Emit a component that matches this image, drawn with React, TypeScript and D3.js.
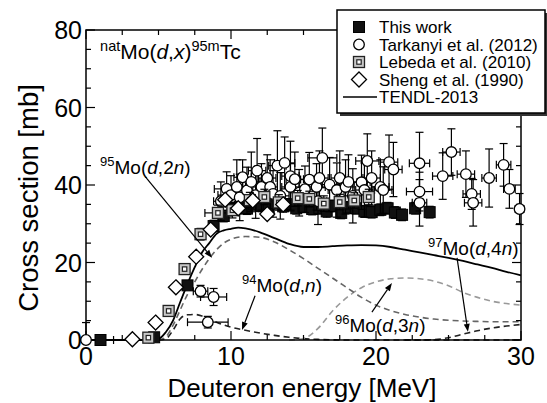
import React from 'react';
import * as d3 from 'd3';

const W = 547;
const H = 403;
const FONT = '"Liberation Sans", Arial, Helvetica, sans-serif';

// Axis tick values
const xMajor = [0, 10, 20, 30];
const yMajor = [0, 20, 40, 60, 80];
const xMinorStep = 2.5;
const yMinorStep = 5;

// TENDL-2013: natMo(d,x)95mTc total
const tendlE = [0, 4, 5, 5.5, 6, 6.5, 7, 7.5, 8, 8.5, 9, 9.5, 10, 10.5, 11, 12, 13, 14, 15, 16, 17, 18, 19, 20, 21, 22, 23, 24, 25, 26, 27, 28, 29, 30];
const tendlTotal = [0, 0, 0.3, 2, 5, 9.8, 14.5, 18.8, 22.6, 25, 27.4, 28.3, 28.7, 29, 28.8, 27.8, 26.3, 24.8, 24.0, 24.0, 24.2, 24.4, 24.5, 24.4, 24.0, 23.3, 22.6, 21.9, 21.2, 20.4, 19.5, 18.6, 17.6, 16.7];

// TENDL-2013 partial contributions
const mo95E = [5, 5.5, 6, 6.5, 7, 7.5, 8, 8.5, 9, 9.5, 10, 11, 12, 13, 14, 15, 16, 17, 18, 19, 20, 21, 22, 23, 24, 25, 26, 27, 28, 29, 30];
const mo95 = [0, 0.8, 3.8, 7.8, 11.8, 15, 18.2, 21, 23.3, 25, 26, 26.7, 26.5, 25.3, 23.3, 21, 18.5, 16, 13.5, 11, 9, 7.6, 6.6, 5.9, 5.4, 5.1, 4.9, 4.8, 4.7, 4.7, 4.7];
const mo94E = [5, 5.5, 6, 6.5, 7, 7.5, 8, 8.5, 9, 9.5, 10, 11, 12, 13, 14, 15, 16, 17, 18, 30];
const mo94 = [0, 0.3, 2.5, 5.5, 6.5, 6.6, 6.2, 5.4, 4.6, 3.9, 3.3, 2.5, 1.8, 1.2, 0.7, 0.35, 0.15, 0.05, 0, 0];
const mo96E = [14, 15, 16, 17, 18, 19, 20, 21, 22, 23, 24, 25, 26, 27, 28, 29, 30];
const mo96 = [0, 0.4, 3, 7.5, 11, 13.5, 15, 15.8, 16, 15.8, 15.2, 14, 12.3, 11, 10, 9.4, 9];
const mo97E = [22, 23, 24, 25, 26, 27, 28, 29, 30];
const mo97 = [0, 0, 0.1, 0.6, 1.5, 2.4, 3.1, 3.6, 4.0];

// Measurements: [energy MeV, cross section mb, dE, dSigma]
const thisWork: [number, number, number, number][] = [
  [1.0, 0, 0.9, 0], [4.7, 0.7, 0.3, 0.3], [7.0, 14.1, 0.3, 1], [8.8, 29.4, 0.3, 1.5],
  [9.5, 32, 0.3, 1.5], [10.1, 33.8, 0.3, 1.5], [10.6, 34.4, 0.3, 1.5], [11.1, 33.9, 0.3, 1.5],
  [11.6, 35, 0.3, 1.5], [12.1, 34.6, 0.3, 1.5], [12.6, 33.7, 0.3, 1.5], [13.1, 35.3, 0.3, 1.5],
  [13.6, 34.5, 0.3, 1.5], [13.9, 35, 0.3, 1.5], [14.5, 34, 0.3, 1.5], [15.0, 34.4, 0.3, 1.5],
  [15.6, 33.8, 0.3, 1.5], [16.1, 34, 0.3, 1.5], [16.6, 33.2, 0.3, 1.5], [17.1, 34.6, 0.3, 1.5],
  [17.6, 32.8, 0.3, 1.5], [18.1, 34.2, 0.3, 1.5], [18.6, 34, 0.3, 1.5], [19.2, 33.2, 0.3, 1.5],
  [19.7, 33, 0.3, 1.5], [20.3, 33.6, 0.3, 1.5], [20.8, 34, 0.3, 1.5], [21.3, 32.9, 0.3, 1.5],
  [21.8, 32.3, 0.3, 1.5], [22.7, 34, 0.3, 1.5], [23.7, 33, 0.3, 1.5],
];

const tarkanyi: [number, number, number, number][] = [
  [0, 0, 0, 4.5], [7.9, 12.6, 0.5, 1.5], [8.8, 11.1, 0.9, 2.2], [8.4, 4.6, 1.4, 1.5],
  [9.3, 35.8, 0.5, 5], [9.7, 39, 0.85, 4.4], [10.0, 37.4, 0.9, 5], [10.4, 39.5, 0.6, 7],
  [10.6, 36.8, 0.5, 6], [10.8, 42, 0.6, 4.5], [11.1, 38.6, 0.6, 6], [11.4, 40.8, 0.6, 7.7],
  [11.7, 37.4, 0.6, 6], [11.8, 43.7, 0.6, 8.3], [12.1, 39.5, 0.6, 6], [12.5, 41.8, 0.6, 6],
  [12.7, 39.5, 0.5, 7], [12.9, 37.7, 0.6, 6], [13.2, 45, 0.6, 9], [13.4, 37.2, 0.6, 6],
  [13.7, 45.7, 0.7, 6.7], [14.1, 42.3, 0.6, 9], [14.1, 39.5, 0.6, 6], [14.4, 41.5, 0.6, 7],
  [14.7, 38, 0.6, 6], [15.1, 38.9, 0.7, 6], [15.4, 41.4, 0.6, 7], [15.9, 39.5, 0.6, 6],
  [16.0, 35.8, 0.6, 6], [16.1, 41.8, 0.6, 7], [16.3, 47, 1.0, 7.7], [16.8, 40.1, 0.6, 7],
  [17.3, 38.7, 0.6, 7], [17.5, 41.8, 0.6, 7], [17.9, 39.5, 0.6, 7], [18.1, 40.8, 0.6, 7],
  [18.4, 37.2, 0.6, 7], [19.0, 40.7, 0.6, 7], [19.2, 38.7, 0.6, 7], [19.4, 46.2, 0.8, 7],
  [19.7, 41.8, 0.6, 7], [20.3, 39.5, 0.6, 7], [20.5, 38.7, 0.6, 6], [20.9, 45.9, 0.6, 7],
  [21.2, 44, 0.6, 7], [23.0, 45.6, 0.7, 8], [23.0, 38.3, 0.9, 5], [23.0, 35.4, 0.5, 6],
  [24.6, 42.3, 0.7, 6], [25.2, 48.5, 0.6, 6], [26.2, 42.8, 0.6, 6], [26.6, 37.7, 0.6, 4],
  [26.7, 35.4, 0.6, 6], [27.8, 41.8, 0.5, 7.5], [28.8, 45.2, 0.5, 5.5], [29.2, 39, 0.4, 5],
  [29.9, 33.8, 0.3, 4],
];

const lebeda: [number, number, number, number][] = [
  [4.3, 0.6, 0.3, 0.3], [5.7, 7.5, 0.3, 0.8], [6.8, 18.3, 0.3, 1.2], [7.9, 27.3, 0.3, 1.5],
  [9.1, 32.8, 0.9, 2], [10.1, 33.5, 0.3, 2], [11.3, 36.1, 0.3, 2], [12.3, 36.9, 0.3, 2],
  [13.3, 35.5, 0.3, 2], [14.6, 36.6, 0.3, 2], [15.4, 36.4, 0.3, 2], [16.4, 35.2, 0.3, 2],
  [17.5, 35.6, 0.3, 2], [18.5, 36, 0.3, 2], [19.5, 36.9, 0.3, 2],
];

const sheng: [number, number][] = [
  [3.2, 0.2], [4.8, 4.5], [6.2, 13.6], [7.6, 21.5], [8.6, 28.5],
  [9.6, 36.2], [10.5, 34], [11.5, 36], [12.5, 32.5], [13.6, 35],
];

const legendLabels = ['This work', 'Tarkanyi et al. (2012)', 'Lebeda et al. (2010)', 'Sheng et al. (1990)', 'TENDL-2013'];

const x = d3.scaleLinear().domain([0, 30]).range([86, 521]);
const y = d3.scaleLinear().domain([0, 80]).range([340, 30]);

function curvePath(es: number[], vs: number[]) {
  return d3
    .line<number>()
    .x((_, i) => x(es[i]))
    .y((v) => y(v))
    .curve(d3.curveMonotoneX)(vs) as string;
}

function ErrorBars({ e, v, de, dv }: { e: number; v: number; de: number; dv: number }) {
  const cx = x(e);
  const cy = y(v);
  const cap = 4;
  const parts: React.ReactNode[] = [];
  if (dv > 0) {
    const lo = Math.max(0, v - dv);
    const yTop = y(v + dv);
    const yBot = y(lo);
    parts.push(<line key="v" x1={cx} x2={cx} y1={yTop} y2={yBot} />);
    parts.push(<line key="vt" x1={cx - cap} x2={cx + cap} y1={yTop} y2={yTop} />);
    if (v - dv > 0) parts.push(<line key="vb" x1={cx - cap} x2={cx + cap} y1={yBot} y2={yBot} />);
  }
  if (de > 0) {
    const xl = x(e - de);
    const xr = x(e + de);
    parts.push(<line key="h" x1={xl} x2={xr} y1={cy} y2={cy} />);
    parts.push(<line key="hl" x1={xl} x2={xl} y1={cy - cap} y2={cy + cap} />);
    parts.push(<line key="hr" x1={xr} x2={xr} y1={cy - cap} y2={cy + cap} />);
  }
  return <g stroke="#000" strokeWidth={1.2}>{parts}</g>;
}

const FilledSquare = ({ cx, cy }: { cx: number; cy: number }) => (
  <rect x={cx - 5.5} y={cy - 5.5} width={11} height={11} fill="#111" stroke="#000" strokeWidth={1} />
);
const OpenCircle = ({ cx, cy }: { cx: number; cy: number }) => (
  <circle cx={cx} cy={cy} r={5.3} fill="#fff" stroke="#000" strokeWidth={1.3} />
);
const DotSquare = ({ cx, cy }: { cx: number; cy: number }) => (
  <g>
    <rect x={cx - 5.5} y={cy - 5.5} width={11} height={11} fill="#c8c8c8" stroke="#222" strokeWidth={1.3} />
    <rect x={cx - 2.2} y={cy - 2.2} width={4.4} height={4.4} fill="#fff" stroke="#222" strokeWidth={1.2} />
  </g>
);
const Diamond = ({ cx, cy }: { cx: number; cy: number }) => (
  <path d={`M${cx},${cy - 7.5}L${cx + 7.5},${cy}L${cx},${cy + 7.5}L${cx - 7.5},${cy}Z`} fill="#fff" stroke="#000" strokeWidth={1.3} />
);

function Arrow({ from, to }: { from: [number, number]; to: [number, number] }) {
  const x1 = x(from[0]);
  const y1 = y(from[1]);
  const x2 = x(to[0]);
  const y2 = y(to[1]);
  const a = Math.atan2(y2 - y1, x2 - x1);
  const len = 8;
  const half = 3;
  const bx = x2 - len * Math.cos(a);
  const by = y2 - len * Math.sin(a);
  const p1 = [bx + half * Math.sin(a), by - half * Math.cos(a)];
  const p2 = [bx - half * Math.sin(a), by + half * Math.cos(a)];
  return (
    <g>
      <line x1={x1} y1={y1} x2={bx} y2={by} stroke="#000" strokeWidth={1.2} />
      <path d={`M${x2},${y2}L${p1[0]},${p1[1]}L${p2[0]},${p2[1]}Z`} fill="#000" />
    </g>
  );
}

function Reaction({ at, mass, proj, out }: { at: [number, number]; mass: string; proj: string; out: string }) {
  return (
    <text x={x(at[0])} y={y(at[1])} fontSize={19} fontFamily={FONT} fill="#000">
      <tspan fontSize={13} dy={-8}>{mass}</tspan>
      <tspan dy={8}>Mo(</tspan>
      <tspan fontStyle="italic">{proj}</tspan>
      <tspan>,{out.replace('n', '')}</tspan>
      <tspan fontStyle="italic">n</tspan>
      <tspan>)</tspan>
    </text>
  );
}

export default function App() {
  const xMinor = d3.range(0, 30.001, xMinorStep);
  const yMinor = d3.range(0, 80.001, yMinorStep);
  const left = x(0);
  const right = x(30);
  const top = y(80);
  const bottom = y(0);

  const legendX = 337;
  const legendY = 10;
  const legendW = 208;
  const legendH = 103;
  const rowY = (i: number) => 27 + i * 17.5;
  const symX = 359;
  const textX = 379;

  return (
    <svg width={W} height={H} style={{ position: 'absolute', left: 0, top: 0, background: '#fff' }} fontFamily={FONT}>
      <rect width={W} height={H} fill="#fff" />

      {/* evaluated curves */}
      <path d={curvePath(mo94E, mo94)} fill="none" stroke="#222" strokeWidth={1.6} strokeDasharray="6,4" />
      <path d={curvePath(mo97E, mo97)} fill="none" stroke="#222" strokeWidth={1.6} strokeDasharray="6,4" />
      <path d={curvePath(mo96E, mo96)} fill="none" stroke="#999" strokeWidth={1.6} strokeDasharray="6,4" />
      <path d={curvePath(mo95E, mo95)} fill="none" stroke="#666" strokeWidth={1.6} strokeDasharray="6,4" />
      <path d={curvePath(tendlE, tendlTotal)} fill="none" stroke="#000" strokeWidth={1.8} />

      {/* frame */}
      <rect x={left} y={top} width={right - left} height={bottom - top} fill="none" stroke="#000" strokeWidth={1.5} />
      <g stroke="#000" strokeWidth={1.2}>
        {xMinor.map((t) => {
          const len = t % 10 === 0 ? 9 : 5;
          return (
            <g key={`xt${t}`}>
              <line x1={x(t)} x2={x(t)} y1={bottom} y2={bottom - len} />
              <line x1={x(t)} x2={x(t)} y1={top} y2={top + len} />
            </g>
          );
        })}
        {yMinor.map((t) => {
          const len = t % 20 === 0 ? 9 : 5;
          return (
            <g key={`yt${t}`}>
              <line x1={left} x2={left + len} y1={y(t)} y2={y(t)} />
              <line x1={right} x2={right - len} y1={y(t)} y2={y(t)} />
            </g>
          );
        })}
      </g>

      {/* measured data */}
      {thisWork.map(([e, v, de, dv], i) => (
        <g key={`tw${i}`}>
          <ErrorBars e={e} v={v} de={de} dv={dv} />
          <FilledSquare cx={x(e)} cy={y(v)} />
        </g>
      ))}
      {tarkanyi.map(([e, v, de, dv], i) => (
        <ErrorBars key={`tke${i}`} e={e} v={v} de={de} dv={dv} />
      ))}
      {tarkanyi.map(([e, v], i) => (
        <OpenCircle key={`tk${i}`} cx={x(e)} cy={y(v)} />
      ))}
      {lebeda.map(([e, v, de, dv], i) => (
        <g key={`lb${i}`}>
          <ErrorBars e={e} v={v} de={de} dv={dv} />
          <DotSquare cx={x(e)} cy={y(v)} />
        </g>
      ))}
      {sheng.map(([e, v], i) => (
        <Diamond key={`sh${i}`} cx={x(e)} cy={y(v)} />
      ))}

      {/* tick labels */}
      <g fontSize={25} fill="#000">
        {xMajor.map((t) => (
          <text key={`xl${t}`} x={x(t)} y={365} textAnchor="middle">{t}</text>
        ))}
        {yMajor.map((t) => (
          <text key={`yl${t}`} x={82} y={y(t) + 9} textAnchor="end">{t}</text>
        ))}
      </g>

      {/* axis titles */}
      <text x={302} y={397} fontSize={26} textAnchor="middle" fill="#000">Deuteron energy [MeV]</text>
      <text transform="translate(38,198) rotate(-90)" fontSize={27.5} textAnchor="middle" fill="#000">Cross section [mb]</text>

      {/* reaction title */}
      <text x={x(0.97)} y={y(72.5)} fontSize={21} fill="#000">
        <tspan fontSize={14.5} dy={-8}>nat</tspan>
        <tspan dy={8}>Mo(</tspan>
        <tspan fontStyle="italic">d</tspan>
        <tspan>,</tspan>
        <tspan fontStyle="italic">x</tspan>
        <tspan>)</tspan>
        <tspan fontSize={14.5} dy={-8}>95m</tspan>
        <tspan dy={8}>Tc</tspan>
      </text>

      {/* curve annotations */}
      <Reaction at={[0.97, 42.8]} mass="95" proj="d" out="2n" />
      <Arrow from={[4.1, 42.1]} to={[8.69, 21.2]} />
      <Reaction at={[10.76, 12.4]} mass="94" proj="d" out="n" />
      <Arrow from={[11.66, 11.4]} to={[10.76, 2.6]} />
      <Reaction at={[17.17, 2.06]} mass="96" proj="d" out="3n" />
      <Arrow from={[19.72, 7.2]} to={[21.1, 14.7]} />
      <Reaction at={[23.59, 21.9]} mass="97" proj="d" out="4n" />
      <Arrow from={[25.59, 21.2]} to={[26.34, 2.1]} />

      {/* legend */}
      <rect x={legendX + 3} y={legendY + 3} width={legendW} height={legendH} fill="#333" />
      <rect x={legendX} y={legendY} width={legendW} height={legendH} fill="#fff" stroke="#000" strokeWidth={1.5} />
      <FilledSquare cx={symX} cy={rowY(0)} />
      <OpenCircle cx={symX} cy={rowY(1)} />
      <DotSquare cx={symX} cy={rowY(2)} />
      <Diamond cx={symX} cy={rowY(3)} />
      <line x1={343} x2={377} y1={rowY(4)} y2={rowY(4)} stroke="#000" strokeWidth={1.6} />
      {legendLabels.map((t, i) => (
        <text key={t} x={textX} y={rowY(i) + 6} fontSize={17} fill="#000">{t}</text>
      ))}
    </svg>
  );
}
